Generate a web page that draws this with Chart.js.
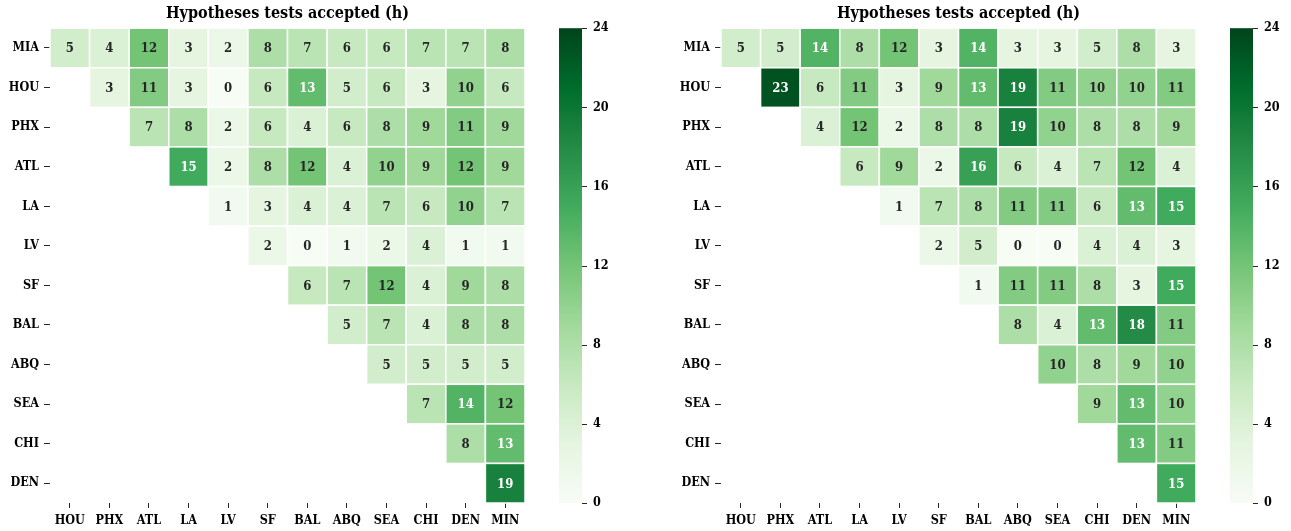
<!DOCTYPE html>
<html>
<head>
<meta charset="utf-8">
<title>Hypotheses tests accepted</title>
<script src="https://cdn.jsdelivr.net/npm/chart.js@4.4.0/dist/chart.umd.min.js"></script>
<style>
  body { margin: 0; overflow: hidden; background: #fff; }
  canvas { position: absolute; top: 0; }
</style>
</head>
<body>
<canvas id="left" width="645" height="531" style="left:0px"></canvas>
<canvas id="right" width="620" height="531" style="left:671px"></canvas>
<script>
const rowLabels = ['MIA', 'HOU', 'PHX', 'ATL', 'LA', 'LV', 'SF', 'BAL', 'ABQ', 'SEA', 'CHI', 'DEN'];
const colLabels = ['HOU', 'PHX', 'ATL', 'LA', 'LV', 'SF', 'BAL', 'ABQ', 'SEA', 'CHI', 'DEN', 'MIN'];
const colorTicks = [0, 4, 8, 12, 16, 20, 24];

// row i starts at column i (upper triangle)
const leftValues = [
  [5, 4, 12, 3, 2, 8, 7, 6, 6, 7, 7, 8],
  [3, 11, 3, 0, 6, 13, 5, 6, 3, 10, 6],
  [7, 8, 2, 6, 4, 6, 8, 9, 11, 9],
  [15, 2, 8, 12, 4, 10, 9, 12, 9],
  [1, 3, 4, 4, 7, 6, 10, 7],
  [2, 0, 1, 2, 4, 1, 1],
  [6, 7, 12, 4, 9, 8],
  [5, 7, 4, 8, 8],
  [5, 5, 5, 5],
  [7, 14, 12],
  [8, 13],
  [19]
];
const rightValues = [
  [5, 5, 14, 8, 12, 3, 14, 3, 3, 5, 8, 3],
  [23, 6, 11, 3, 9, 13, 19, 11, 10, 10, 11],
  [4, 12, 2, 8, 8, 19, 10, 8, 8, 9],
  [6, 9, 2, 16, 6, 4, 7, 12, 4],
  [1, 7, 8, 11, 11, 6, 13, 15],
  [2, 5, 0, 0, 4, 4, 3],
  [1, 11, 11, 8, 3, 15],
  [8, 4, 13, 18, 11],
  [10, 8, 9, 10],
  [9, 13, 10],
  [13, 11],
  [15]
];

const greens = ['#f7fcf5', '#e5f5e0', '#c7e9c0', '#a1d99b', '#74c476', '#41ab5d', '#238b45', '#006d2c', '#00441b'];
const FONT = "'DejaVu Serif Condensed', 'DejaVu Serif', serif";
const VMAX = 24;

const stops = greens.map(h => [1, 3, 5].map(i => parseInt(h.substr(i, 2), 16)));
function cmap(t) {
  t = Math.max(0, Math.min(1, t));
  const p = t * (stops.length - 1);
  const i = Math.min(Math.floor(p), stops.length - 2);
  const f = p - i;
  return stops[i].map((c, k) => c + (stops[i + 1][k] - c) * f);
}
function luminance(rgb) {
  const c = rgb.map(v => {
    v /= 255;
    return v <= 0.03928 ? v / 12.92 : Math.pow((v + 0.055) / 1.055, 2.4);
  });
  return 0.2126 * c[0] + 0.7152 * c[1] + 0.0722 * c[2];
}

function toPoints(rows) {
  const pts = [];
  rows.forEach((row, i) => row.forEach((v, k) => pts.push({ x: colLabels[i + k], y: rowLabels[i], v: v })));
  return pts;
}

const heatPlugin = {
  id: 'heat',
  afterDatasetsDraw(chart) {
    const { ctx, chartArea } = chart;
    const { x, y, cb } = chart.scales;
    const w = x.getPixelForValue(1) - x.getPixelForValue(0);
    const h = y.getPixelForValue(1) - y.getPixelForValue(0);
    const data = chart.data.datasets[0].data;
    ctx.save();
    chart.getDatasetMeta(0).data.forEach((pt, i) => {
      const v = data[i].v;
      const rgb = cmap(v / VMAX);
      ctx.fillStyle = 'rgb(' + rgb.map(Math.round).join(',') + ')';
      ctx.fillRect(pt.x - w / 2, pt.y - h / 2, w, h);
      ctx.strokeStyle = '#fff';
      ctx.lineWidth = 1.5;
      ctx.strokeRect(pt.x - w / 2, pt.y - h / 2, w, h);
      ctx.fillStyle = luminance(rgb) > 0.408 ? '#262626' : '#fff';
      ctx.font = 'bold 13px ' + FONT;
      ctx.textAlign = 'center';
      ctx.textBaseline = 'middle';
      ctx.fillText(String(v), pt.x, pt.y + 1);
    });

    // colour bar
    const bx = chartArea.right + 34, bw = 23;
    const top = cb.getPixelForValue(VMAX), bot = cb.getPixelForValue(0);
    const g = ctx.createLinearGradient(0, bot, 0, top);
    greens.forEach((c, i) => g.addColorStop(i / (greens.length - 1), c));
    ctx.fillStyle = g;
    ctx.fillRect(bx, top, bw, bot - top);
    ctx.strokeStyle = '#262626';
    ctx.lineWidth = 1;
    cb.ticks.forEach(t => {
      const py = Math.round(cb.getPixelForValue(t.value)) + 0.5;
      ctx.beginPath();
      ctx.moveTo(bx + bw, py);
      ctx.lineTo(bx + bw + 5, py);
      ctx.stroke();
    });
    ctx.restore();
  }
};

function makeChart(id, rows, cbWidth) {
  const tickFont = { family: FONT, size: 12.5, weight: 'bold' };
  return new Chart(document.getElementById(id), {
    type: 'scatter',
    data: { datasets: [{ data: toPoints(rows), pointRadius: 0, pointHoverRadius: 0 }] },
    options: {
      responsive: false,
      animation: false,
      events: [],
      layout: { padding: 0 },
      plugins: {
        legend: { display: false },
        tooltip: { enabled: false },
        title: {
          display: true,
          text: 'Hypotheses tests accepted (h)',
          fullSize: false,
          color: '#000',
          font: { family: FONT, size: 16, weight: 'bold' },
          padding: { top: 4, bottom: 5 }
        }
      },
      scales: {
        x: {
          type: 'category',
          labels: colLabels,
          offset: true,
          position: 'bottom',
          grid: { drawOnChartArea: false, tickLength: 5, color: '#262626', lineWidth: 1 },
          border: { display: false },
          ticks: { font: tickFont, color: '#000', padding: 5, maxRotation: 0, autoSkip: false },
          afterFit: s => { s.height = 28; }
        },
        y: {
          type: 'category',
          labels: rowLabels,
          offset: true,
          position: 'left',
          grid: { drawOnChartArea: false, tickLength: 6, color: '#262626', lineWidth: 1 },
          border: { display: false },
          ticks: { font: tickFont, color: '#000', padding: 5, autoSkip: false },
          afterFit: s => { s.width = 50; }
        },
        cb: {
          type: 'linear',
          position: 'right',
          min: 0,
          max: VMAX,
          afterBuildTicks: s => { s.ticks = colorTicks.map(v => ({ value: v })); },
          grid: { display: false, drawTicks: false },
          border: { display: false },
          ticks: { font: tickFont, color: '#000', padding: 68 },
          afterFit: s => { s.width = cbWidth; s.paddingTop = 0; s.paddingBottom = 0; }
        }
      }
    },
    plugins: [heatPlugin]
  });
}

makeChart('left', leftValues, 120);
makeChart('right', rightValues, 95);
</script>
</body>
</html>
